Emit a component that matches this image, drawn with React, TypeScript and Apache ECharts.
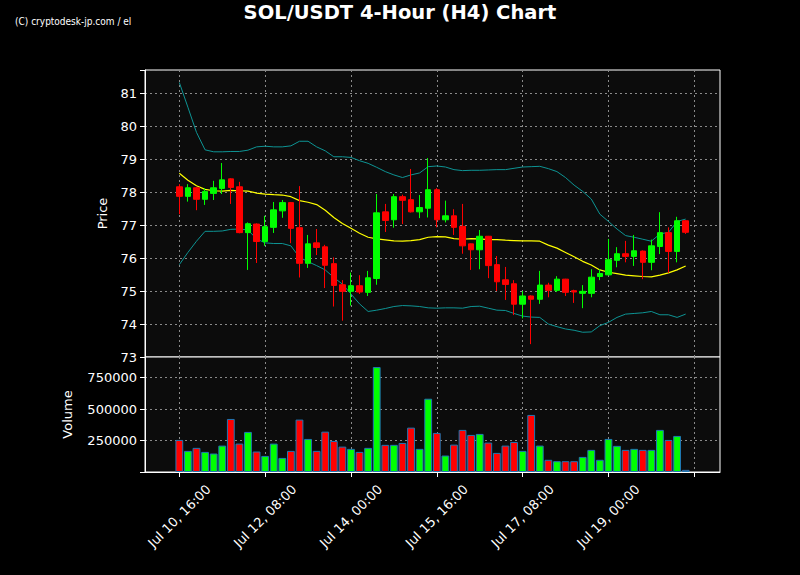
import React, { useEffect, useRef } from 'react';
import * as echarts from 'echarts';

// ---- data ----
const opens = [
  78.16, 77.87, 78.13, 77.78, 77.96, 78.11, 78.40, 78.16, 76.77, 77.03,
  76.50, 76.93, 77.43, 77.68, 76.92, 75.84, 76.46, 76.34, 75.83, 75.19,
  74.99, 75.16, 74.96, 75.38, 77.40, 77.16, 77.86, 77.77, 77.40, 77.51,
  78.07, 77.16, 77.28, 76.96, 76.43, 76.25, 76.66, 75.80, 75.34, 75.22,
  74.60, 74.85, 74.75, 75.18, 75.02, 75.36, 75.01, 74.93, 74.93, 75.44,
  75.49, 75.93, 76.13, 76.05, 76.21, 75.87, 76.35, 76.77, 76.20, 77.13,
];
const closes = [
  77.87, 78.13, 77.78, 78.02, 78.13, 78.37, 78.14, 76.77, 77.04, 76.50,
  76.95, 77.46, 77.68, 76.90, 75.84, 76.43, 76.32, 75.78, 75.17, 74.99,
  75.16, 74.97, 75.40, 77.37, 77.14, 77.86, 77.75, 77.40, 77.53, 78.07,
  77.16, 77.28, 76.93, 76.37, 76.25, 76.66, 75.77, 75.28, 75.20, 74.60,
  74.85, 74.75, 75.18, 75.02, 75.36, 74.96, 74.97, 74.99, 75.42, 75.53,
  75.95, 76.13, 76.05, 76.22, 75.87, 76.37, 76.77, 76.20, 77.13, 76.78,
];
const highs = [
  78.24, 78.24, 78.15, 78.12, 78.34, 78.88, 78.42, 78.31, 77.08, 77.05,
  77.28, 77.70, 77.76, 77.70, 78.18, 76.70, 76.88, 76.40, 76.02, 75.33,
  75.56, 75.48, 75.61, 77.94, 77.64, 77.94, 77.92, 78.70, 77.91, 79.03,
  78.12, 77.74, 77.48, 77.64, 76.44, 76.85, 76.67, 76.06, 75.73, 75.33,
  75.00, 74.87, 75.61, 75.25, 75.45, 75.37, 75.04, 75.18, 75.66, 75.66,
  76.58, 76.33, 76.52, 76.70, 76.23, 76.56, 77.39, 76.93, 77.25, 77.15,
];
const lows = [
  77.33, 77.71, 77.45, 77.61, 77.76, 77.94, 77.64, 76.75, 75.64, 75.85,
  76.37, 76.76, 77.22, 76.45, 75.41, 75.70, 76.09, 75.09, 74.53, 74.10,
  74.56, 74.91, 74.85, 75.19, 76.79, 76.92, 77.03, 77.38, 77.21, 77.23,
  76.93, 77.08, 76.70, 76.13, 75.64, 75.66, 75.39, 75.00, 74.73, 74.27,
  74.17, 73.39, 74.61, 74.81, 74.97, 74.85, 74.64, 74.48, 74.81, 75.33,
  75.48, 75.72, 75.87, 75.76, 75.36, 75.63, 76.12, 75.55, 75.87, 76.73,
];
const volumes = [
  255000, 168000, 192000, 160000, 147000, 210000, 422000, 226000, 319000, 163000,
  128000, 226000, 112000, 168000, 417000, 263000, 168000, 321000, 247000, 202000,
  184000, 160000, 192000, 835000, 216000, 216000, 231000, 353000, 184000, 583000,
  311000, 131000, 218000, 335000, 295000, 303000, 234000, 152000, 210000, 239000,
  168000, 454000, 210000, 97000, 86000, 86000, 86000, 120000, 176000, 97000,
  263000, 208000, 176000, 184000, 176000, 176000, 335000, 255000, 287000, 17000,
];
const bbMiddle = [
  78.57, 78.36, 78.19, 78.08, 78.04, 78.03, 78.05, 78.04, 78.03, 77.97,
  77.94, 77.92, 77.91, 77.86, 77.74, 77.69, 77.62, 77.45, 77.23, 77.05,
  76.90, 76.75, 76.63, 76.58, 76.55, 76.52, 76.51, 76.53, 76.56, 76.63,
  76.65, 76.64, 76.59, 76.57, 76.59, 76.58, 76.56, 76.56, 76.54, 76.53,
  76.52, 76.52, 76.51, 76.39, 76.30, 76.17, 76.04, 75.90, 75.79, 75.64,
  75.57, 75.53, 75.48, 75.46, 75.44, 75.43, 75.48, 75.55, 75.64, 75.76,
];
const bbUpper = [
  81.32, 80.57, 79.81, 79.28, 79.22, 79.22, 79.23, 79.23, 79.27, 79.37,
  79.39, 79.37, 79.37, 79.40, 79.54, 79.54, 79.37, 79.25, 79.07, 79.07,
  79.05, 78.95, 78.87, 78.75, 78.62, 78.52, 78.44, 78.52, 78.58, 78.77,
  78.79, 78.76, 78.68, 78.65, 78.66, 78.66, 78.67, 78.68, 78.68, 78.72,
  78.76, 78.77, 78.78, 78.71, 78.62, 78.44, 78.21, 78.02, 77.79, 77.33,
  77.11, 76.88, 76.68, 76.63, 76.57, 76.51, 76.73, 76.78, 77.11, 77.18,
];
const bbLower = [
  75.80, 76.17, 76.51, 76.81, 76.81, 76.82, 76.87, 76.88, 76.85, 76.58,
  76.46, 76.44, 76.44, 76.37, 76.02, 75.89, 75.77, 75.64, 75.41, 75.21,
  74.91, 74.61, 74.38, 74.42, 74.47, 74.53, 74.56, 74.55, 74.53, 74.49,
  74.48, 74.49, 74.49, 74.48, 74.53, 74.54, 74.48, 74.42, 74.41, 74.32,
  74.24, 74.21, 74.20, 74.00, 73.92, 73.85, 73.81, 73.75, 73.76, 73.95,
  74.05, 74.20, 74.30, 74.32, 74.34, 74.38, 74.28, 74.28, 74.20, 74.30,
];
const tickLabels = [
  'Jul 10, 16:00', 'Jul 12, 08:00', 'Jul 14, 00:00',
  'Jul 15, 16:00', 'Jul 17, 08:00', 'Jul 19, 00:00',
];
const TICK_EVERY = 10;       // candles between x ticks
const PAD_BEFORE = 4;        // empty slots before first candle
const PAD_AFTER = 4;         // empty slots after last candle
const FIRST_TIME = Date.UTC(2025, 6, 10, 16, 0); // first candle: Jul 10, 16:00
const STEP_MS = 4 * 3600 * 1000;

const MONTHS = ['Jan', 'Feb', 'Mar', 'Apr', 'May', 'Jun', 'Jul', 'Aug', 'Sep', 'Oct', 'Nov', 'Dec'];
function fmtTime(t: number): string {
  const d = new Date(t);
  const hh = String(d.getUTCHours()).padStart(2, '0');
  const mm = String(d.getUTCMinutes()).padStart(2, '0');
  return `${MONTHS[d.getUTCMonth()]} ${d.getUTCDate()}, ${hh}:${mm}`;
}

export default function App() {
  const ref = useRef<HTMLDivElement>(null);

  useEffect(() => {
    document.body.style.margin = '0';
    document.body.style.background = '#000';
    if (!ref.current) return;
    const chart = echarts.init(ref.current, undefined, { renderer: 'svg' });

    const n = opens.length;
    const total = PAD_BEFORE + n + PAD_AFTER;
    const categories: string[] = [];
    for (let k = 0; k < total; k++) categories.push(fmtTime(FIRST_TIME + (k - PAD_BEFORE) * STEP_MS));

    const pad = (arr: any[], empty: any) => [
      ...Array(PAD_BEFORE).fill(empty), ...arr, ...Array(PAD_AFTER).fill(empty),
    ];
    const candleData = pad(opens.map((o, i) => [o, closes[i], lows[i], highs[i]]), ['-', '-', '-', '-']);
    const volData = pad(volumes.map((v, i) => ({
      value: v,
      itemStyle: { color: closes[i] >= opens[i] ? '#00ff00' : '#ff0000' },
    })), null);

    const isTick = (idx: number) => idx >= PAD_BEFORE && (idx - PAD_BEFORE) % TICK_EVERY === 0;
    const gridLine = { color: '#8a8a8a', type: [2, 3] as any, width: 1 };
    const font = 'DejaVu Sans';
    const bandColor = '#0e9494';

    const option: any = {
      animation: false,
      backgroundColor: '#000000',
      title: {
        text: 'SOL/USDT 4-Hour (H4) Chart',
        left: 'center',
        top: 2,
        padding: [0, 0, 0, 0],
        textStyle: { color: '#ffffff', fontSize: 19.5, lineHeight: 20, fontWeight: 'bold', fontFamily: font },
      },
      graphic: [{
        type: 'text', left: 15, top: 16,
        style: {
          text: '(C) cryptodesk-jp.com / el', fill: '#ffffff',
          font: '10px "Liberation Sans Narrow", "DejaVu Sans Condensed", sans-serif',
        },
      }],
      grid: [
        { left: 145, right: 80, top: 70, height: 287, show: true, backgroundColor: '#0c0c0c', borderColor: '#ffffff', borderWidth: 1 },
        { left: 145, right: 80, top: 357, height: 115, show: true, backgroundColor: '#0c0c0c', borderColor: '#ffffff', borderWidth: 1 },
      ],
      xAxis: [
        {
          type: 'category', gridIndex: 0, data: categories, boundaryGap: false,
          axisLine: { show: false }, axisTick: { show: false }, axisLabel: { show: false },
          splitLine: { show: true, interval: isTick, lineStyle: gridLine },
        },
        {
          type: 'category', gridIndex: 1, data: categories, boundaryGap: false,
          axisLine: { show: true, lineStyle: { color: '#ffffff' } },
          axisTick: { show: true, interval: isTick, length: 5, lineStyle: { color: '#ffffff' } },
          axisLabel: {
            interval: isTick,
            formatter: (v: string) => (tickLabels.includes(v) ? v : ''),
            rotate: 45, align: 'center', verticalAlign: 'middle', margin: 44,
            color: '#ffffff', fontSize: 13, fontFamily: font,
          },
          splitLine: { show: true, interval: isTick, lineStyle: gridLine },
        },
      ],
      yAxis: [
        {
          type: 'value', gridIndex: 0, min: 73, max: 81.7, interval: 1,
          name: 'Price', nameLocation: 'middle', nameGap: 36,
          nameTextStyle: { color: '#ffffff', fontSize: 13, fontFamily: font },
          axisLine: { show: true, lineStyle: { color: '#ffffff' } },
          axisTick: { show: true, length: 5, lineStyle: { color: '#ffffff' } },
          axisLabel: {
            color: '#ffffff', fontSize: 13, fontFamily: font, margin: 8,
            formatter: (v: number) => (Math.abs(v - Math.round(v)) < 1e-6 ? String(Math.round(v)) : ''),
          },
          splitLine: { show: true, lineStyle: gridLine },
        },
        {
          type: 'value', gridIndex: 1, min: 0, max: 915000, interval: 250000,
          name: 'Volume', nameLocation: 'middle', nameGap: 71,
          nameTextStyle: { color: '#ffffff', fontSize: 13, fontFamily: font },
          axisLine: { show: true, lineStyle: { color: '#ffffff' } },
          axisTick: { show: true, length: 5, lineStyle: { color: '#ffffff' } },
          axisLabel: {
            color: '#ffffff', fontSize: 13, fontFamily: font, margin: 8,
            formatter: (v: number) => (v === 0 || v % 250000 !== 0 ? '' : String(v)),
          },
          splitLine: { show: true, lineStyle: gridLine },
        },
      ],
      series: [
        {
          type: 'line', name: 'Upper', xAxisIndex: 0, yAxisIndex: 0,
          data: pad(bbUpper, null), symbol: 'none',
          lineStyle: { color: bandColor, width: 1 }, z: 2,
        },
        {
          type: 'line', name: 'Lower', xAxisIndex: 0, yAxisIndex: 0,
          data: pad(bbLower, null), symbol: 'none',
          lineStyle: { color: bandColor, width: 1 }, z: 2,
        },
        {
          type: 'line', name: 'Middle', xAxisIndex: 0, yAxisIndex: 0,
          data: pad(bbMiddle, null), symbol: 'none',
          lineStyle: { color: '#ffff00', width: 1.2 }, z: 2,
        },
        {
          type: 'candlestick', name: 'SOL', xAxisIndex: 0, yAxisIndex: 0,
          data: candleData, barWidth: 6,
          itemStyle: {
            color: '#00ff00', color0: '#ff0000',
            borderColor: '#00ff00', borderColor0: '#ff0000', borderWidth: 1,
          },
          z: 3,
        },
        {
          type: 'bar', name: 'Volume', xAxisIndex: 1, yAxisIndex: 1,
          data: volData, barWidth: 7.8,
          itemStyle: { borderColor: '#1f77b4', borderWidth: 1 },
        },
      ],
    };

    chart.setOption(option);
    return () => chart.dispose();
  }, []);

  return <div ref={ref} style={{ width: 800, height: 575 }} />;
}
